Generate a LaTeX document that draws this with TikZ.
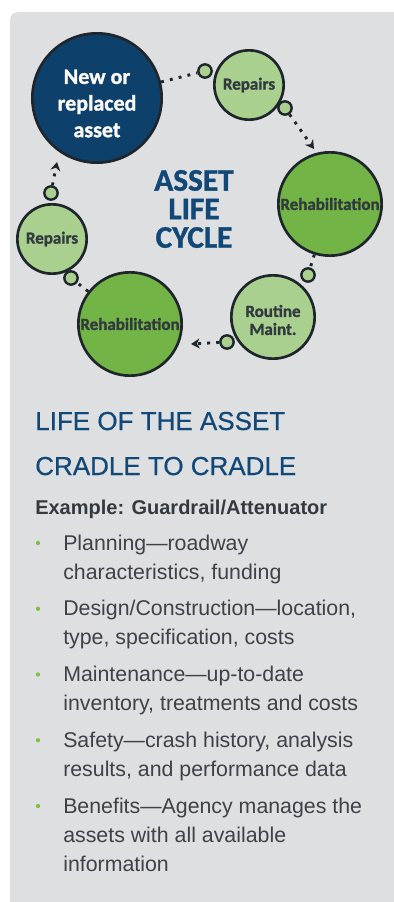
\documentclass[tikz,border=0pt]{standalone}
\usepackage{fontspec}
\setmainfont{Liberation Sans}
\newfontfamily\circfont[BoldFeatures={FakeBold=1.2}]{Carlito}
\newfontfamily\headfont[FakeBold=0.6]{Liberation Sans}
\usetikzlibrary{arrows.meta}

\definecolor{panelgray}{RGB}{222,223,225}
\definecolor{navy}{RGB}{14,64,108}
\definecolor{lightgreen}{RGB}{169,208,142}
\definecolor{midgreen}{RGB}{115,180,70}
\definecolor{ringgray}{RGB}{30,38,44}
\definecolor{labelgray}{RGB}{50,58,64}
\definecolor{headblue}{RGB}{18,72,120}
\definecolor{bodygray}{RGB}{60,66,72}
\definecolor{bulletgreen}{RGB}{122,193,67}

\tikzset{
  stage/.style={circle, draw=ringgray, line width=2pt, inner sep=0pt, align=center,
    text=labelgray, font=\circfont\bfseries\fontsize{12.75}{13.5}\selectfont},
  stagetext/.style={inner sep=0pt, align=center, text=labelgray,
    font=\circfont\bfseries\fontsize{12.75}{13.5}\selectfont},
  port/.style={circle, draw=ringgray, line width=1.8pt, fill=lightgreen,
    minimum size=10pt, inner sep=0pt},
  hop/.style={draw=ringgray, line width=2.2pt, dash pattern=on 2.2pt off 4.6pt},
  hoparrow/.style={hop, -{Stealth[length=6.5pt,width=7.5pt]}},
  bodytext/.style={anchor=base west, inner sep=0pt, align=left, text=bodygray,
    font=\fontsize{16}{21.75}\selectfont},
  bulletdot/.style={circle, fill=bulletgreen, minimum size=3.2pt, inner sep=0pt},
}

\begin{document}
\begin{tikzpicture}[x=0.75pt, y=-0.75pt]

\useasboundingbox (0,0) rectangle (393,902);
\fill[panelgray, rounded corners=6pt] (10,12) rectangle (410,920);

\node[stage, fill=navy, minimum size=97pt] (newasset) at (97,98) {};
\node[stagetext, text=white, font=\circfont\bfseries\fontsize{16.5}{20}\selectfont] (newlabel) at (97,103.5) {New or\\replaced\\asset};
\node[stage, fill=lightgreen, minimum size=52pt] (repairsT) at (249,85) {Repairs};
\node[stage, fill=midgreen, minimum size=77.5pt] (rehabR) at (330,204) {Rehabilitation};
\node[stage, fill=lightgreen, minimum size=62.5pt] (routine) at (273,317) {};
\node[stagetext] (routinelabel) at (273,320) {Routine\\Maint.};
\node[stage, fill=midgreen, minimum size=77.5pt] (rehabL) at (130,324) {Rehabilitation};
\node[stage, fill=lightgreen, minimum size=52pt] (repairsL) at (52,239) {Repairs};

\node[port] (p1) at (205,71) {};
\node[port] (p2) at (285,108) {};
\node[port] (p3) at (308,275) {};
\node[port] (p4) at (227,342) {};
\node[port] (p5) at (71,278) {};
\node[port] (p6) at (51,193) {};

\coordinate (tipR) at (314,149);
\coordinate (tipL) at (191,344);
\coordinate (tipN) at (57,162);

\draw[hop] (newasset) -- (p1);
\draw[hoparrow] (p2) -- (tipR);
\draw[hop] (rehabR) -- (p3);
\draw[hoparrow] (p4) -- (tipL);
\draw[hop] (rehabL) -- (p5);
\draw[hoparrow] (p6) -- (tipN);

\node[align=center, text=headblue, inner sep=0pt,
  font=\circfont\bfseries\fontsize{23.5}{21.4}\selectfont] (cycle) at (194,209) {ASSET\\LIFE\\CYCLE};

\node[anchor=base west, inner sep=0pt, text=headblue, font=\headfont\fontsize{19.5}{24}\selectfont] (head1) at (35,430) {LIFE OF THE ASSET};
\node[anchor=base west, inner sep=0pt, text=headblue, font=\headfont\fontsize{19.5}{24}\selectfont] (head2) at (35,475) {CRADLE TO CRADLE};
\node[anchor=base west, inner sep=0pt, text=labelgray, font=\bfseries\fontsize{15}{18}\selectfont] (example) at (35,514) {Example: Guardrail/Attenuator};

\node[bodytext] (item1) at (63,579) {Planning—roadway\\characteristics, funding};
\node[bodytext] (item2) at (63,644.75) {Design/Construction—location,\\type, specification, costs};
\node[bodytext] (item3) at (63,710.5) {Maintenance—up-to-date\\inventory, treatments and costs};
\node[bodytext] (item4) at (63,776.25) {Safety—crash history, analysis\\results, and performance data};
\node[bodytext] (item5) at (63,871) {Benefits—Agency manages the\\assets with all available\\information};

\node[bulletdot] (b1) at (38,543) {};
\node[bulletdot] (b2) at (38,608.75) {};
\node[bulletdot] (b3) at (38,674.5) {};
\node[bulletdot] (b4) at (38,740.25) {};
\node[bulletdot] (b5) at (38,806) {};

\end{tikzpicture}
\end{document}
